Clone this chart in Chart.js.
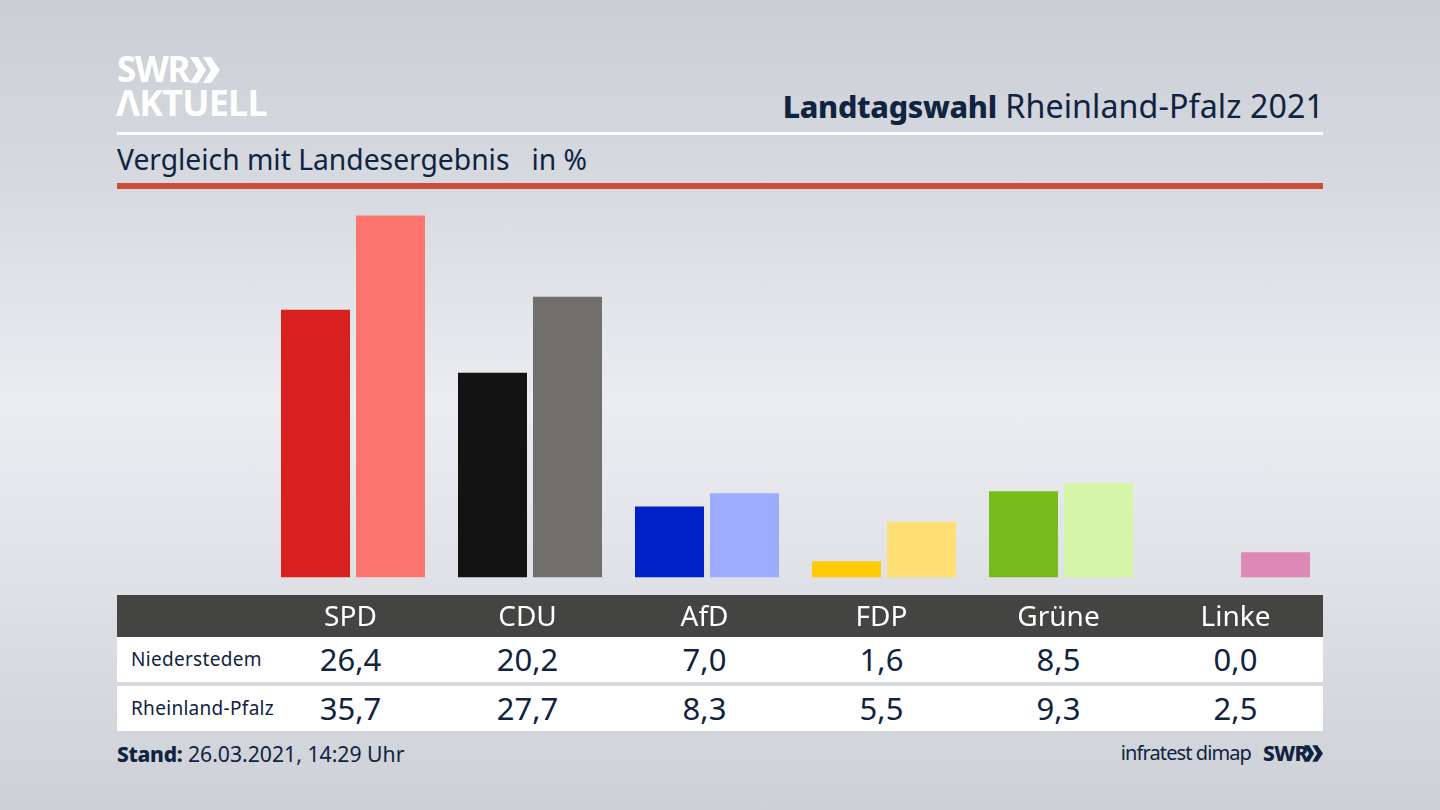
<!DOCTYPE html>
<html lang="de"><head><meta charset="utf-8"><title>Landtagswahl Rheinland-Pfalz 2021</title>
<script src="https://cdn.jsdelivr.net/npm/chart.js@4"></script>
<style>
html,body{margin:0;padding:0}
body{width:1440px;height:810px;overflow:hidden;position:relative;font-family:"Noto Sans",sans-serif;color:#10233f;
background:linear-gradient(180deg,#cbced5 0%,#d6d9df 22%,#ebedf1 50%,#e3e5ea 65%,#cdd0d6 100%)}
.a{position:absolute;white-space:nowrap}
#chart{position:absolute;left:0;top:0;z-index:2}
.val{transform:translateX(-50%);font-size:31px;line-height:45px;width:120px;text-align:center}
.lab{font-size:19px;left:131px;line-height:45px;letter-spacing:.3px}
</style></head><body>
<div class="a" style="left:117px;top:49px;font:700 35px/40px 'Noto Sans';color:#fff;letter-spacing:-1.3px">SWR</div>
<svg class="a" style="left:190px;top:57px" width="30" height="26" viewBox="0 0 30 26"><path d="M0 0h8l8 13-8 13H0l8-13zM13 0h8l9 13-9 13h-8l8-13z" fill="#fff"/></svg>
<div class="a" style="left:116px;top:81px;font:700 36px/44px 'Noto Sans';color:#fff;letter-spacing:-.8px">ΛKTUELL</div>
<div class="a" style="right:116px;top:85px;font-size:32.2px;line-height:42px;letter-spacing:.1px"><b style="font-size:30.5px;font-weight:800;letter-spacing:-.3px">Landtagswahl</b> Rheinland-Pfalz 2021</div>
<div class="a" style="left:117px;top:132px;width:1206px;height:3px;background:#fff"></div>
<div class="a" style="left:117px;top:140px;font-size:28.25px;line-height:38px;white-space:pre" id="sub">Vergleich mit Landesergebnis   in %</div>
<div class="a" style="left:117px;top:183px;width:1206px;height:6px;background:#cc5039"></div>
<div class="a" style="left:117px;top:595px;width:1206px;height:42px;background:#444442"></div>
<div class="a" style="left:117px;top:637px;width:1206px;height:45px;background:#fff"></div>
<div class="a" style="left:117px;top:686px;width:1206px;height:45px;background:#fff"></div>
<div id="rows"></div>
<div class="a" style="left:117px;top:739px;font-size:21.2px;line-height:30px"><b style="font-size:21px;font-weight:800;letter-spacing:-.3px">Stand:</b> 26.03.2021, 14:29 Uhr</div>
<div class="a" style="right:189px;top:739px;font-size:20px;line-height:28px;letter-spacing:-.9px">infratest dimap</div>
<div class="a" style="left:1263px;top:739px;font:800 21px/28px 'Noto Sans';letter-spacing:-.6px">SWR</div>
<svg class="a" style="left:1304px;top:745px" width="19" height="17" viewBox="0 0 30 26"><path d="M0 0h8l8 13-8 13H0l8-13zM13 0h8l9 13-9 13h-8l8-13z" fill="#10233f"/></svg>
<canvas id="chart" width="1440" height="810"></canvas>
<script>
const categories = ["SPD","CDU","AfD","FDP","Grüne","Linke"];
const seriesNames = ["Niederstedem","Rheinland-Pfalz"];
const niederstedem = [26.4,20.2,7.0,1.6,8.5,0.0];
const rheinlandPfalz = [35.7,27.7,8.3,5.5,9.3,2.5];
const coloursA = ["#d8201f","#131313","#0020c8","#ffcc0a","#78bc1c","#b0306f"];
const coloursB = ["#ff7570","#706f6d","#9dabff","#ffe074","#d5f5a9","#de88b5"];

const fmt = v => v.toFixed(1).replace(".",",");
const rows = document.getElementById("rows");
[[niederstedem,637],[rheinlandPfalz,686]].forEach(([vals,top],r)=>{
  const l = document.createElement("div");
  l.className="a lab"; l.style.top=top+"px"; l.textContent=seriesNames[r]; rows.appendChild(l);
  vals.forEach((v,i)=>{
    const d=document.createElement("div");
    d.className="a val"; d.style.top=top+"px"; d.style.left=(350.5+177*i)+"px";
    d.textContent=fmt(v); rows.appendChild(d);
  });
});

new Chart(document.getElementById("chart"),{
  type:"bar",
  data:{labels:categories,datasets:[
    {label:seriesNames[0],data:niederstedem,backgroundColor:coloursA},
    {label:seriesNames[1],data:rheinlandPfalz,backgroundColor:coloursB}
  ]},
  options:{
    responsive:false,animation:false,
    categoryPercentage:150/177,barPercentage:69/75,
    layout:{padding:{left:264.5,right:113.5,top:212.5,bottom:172.5}},
    plugins:{legend:{display:false},tooltip:{enabled:false}},
    scales:{
      y:{display:false,min:0,max:36},
      x:{
        grid:{display:false},border:{display:false},
        afterFit(s){s.height=60},
        ticks:{color:"#fff",padding:16,labelOffset:-2.5,maxRotation:0,autoSkip:false,
          font:{family:"Noto Sans",size:28}}
      }
    }
  }
});
</script>
</body></html>
